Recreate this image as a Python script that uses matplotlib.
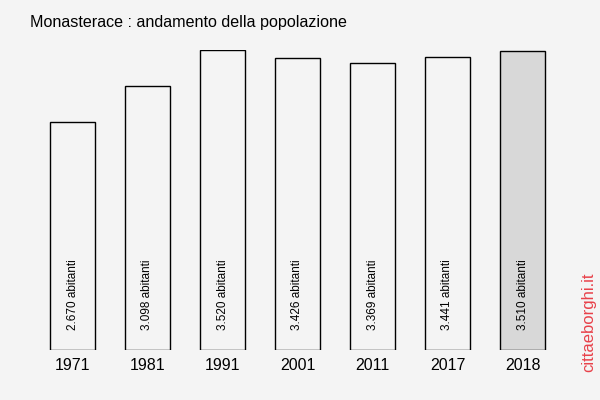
import matplotlib
matplotlib.use("Agg")
from matplotlib import pyplot as plt

plt.rcParams["font.family"] = ["Liberation Sans", "DejaVu Sans"]

# dati popolazione
anni = ["1971", "1981", "1991", "2001", "2011", "2017", "2018"]
abitanti = [2670, 3098, 3520, 3426, 3369, 3441, 3510]
etichette = ["2.670 abitanti", "3.098 abitanti", "3.520 abitanti", "3.426 abitanti",
             "3.369 abitanti", "3.441 abitanti", "3.510 abitanti"]

sfondo = "#f4f4f4"

fig = plt.figure(figsize=(6, 4), dpi=100, facecolor=sfondo)
ax = fig.add_axes([35 / 600, 50 / 400, 525 / 600, 300 / 400])
ax.set_facecolor(sfondo)

colori = [sfondo] * (len(anni) - 1) + ["#d8d8d8"]
x = list(range(len(anni)))
ax.bar(x, abitanti, width=0.6, color=colori, edgecolor="black", linewidth=1)

for i, testo in enumerate(etichette):
    ax.text(x[i], 235, testo, rotation=90, ha="center", va="bottom", fontsize=8.5)

ax.set_xlim(-0.5, len(anni) - 0.5)
ax.set_ylim(0, 3520)
ax.set_xticks(x)
ax.set_xticklabels(anni, fontsize=11.5)
ax.tick_params(axis="x", length=0, pad=6)
ax.set_yticks([])
for s in ax.spines.values():
    s.set_visible(False)

fig.text(30 / 600, 1 - 22 / 400, "Monasterace : andamento della popolazione",
         fontsize=11.6, ha="left", va="center")
fig.text(589 / 600, 1 - 322 / 400, "cittaeborghi.it", rotation=90, color="#e8414a",
         fontsize=12, ha="center", va="center")

fig.savefig("out.png", dpi=100, facecolor=sfondo)
